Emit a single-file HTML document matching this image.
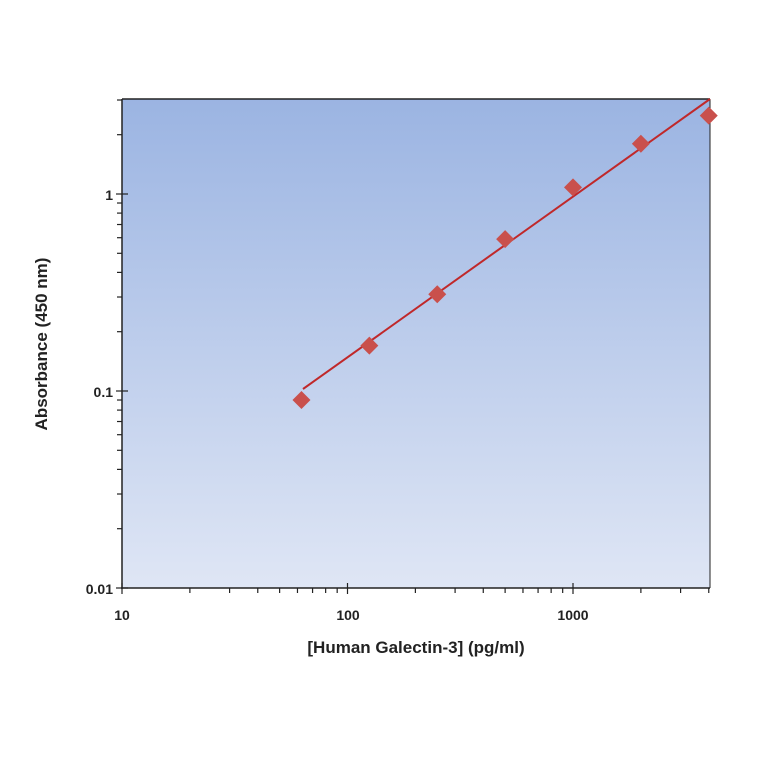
<!DOCTYPE html>
<html><head><meta charset="utf-8"><style>
html,body{margin:0;padding:0;background:#fff;}
svg text{font-family:"Liberation Sans",Arial,sans-serif;font-weight:bold;fill:#222;}
</style></head><body>
<svg id="s" width="764" height="764" viewBox="0 0 764 764" xmlns="http://www.w3.org/2000/svg">
<defs><linearGradient id="g" x1="0" y1="0" x2="0" y2="1">
<stop offset="0" stop-color="#9bb4e2"/><stop offset="1" stop-color="#dfe6f5"/></linearGradient></defs>
<rect x="122" y="99" width="588" height="489" fill="url(#g)"/>
<line x1="122" y1="99" x2="710" y2="99" stroke="#222" stroke-width="1.5"/>
<line x1="710" y1="99" x2="710" y2="588" stroke="#222" stroke-width="1"/>
<line x1="122" y1="99" x2="122" y2="589" stroke="#222" stroke-width="1.5"/>
<line x1="121" y1="588" x2="710" y2="588" stroke="#222" stroke-width="1.5"/>
<g id="ticks" stroke="#222" stroke-width="1.2"></g>
<polyline points="303,389 710,99" fill="none" stroke="#c0282a" stroke-width="2"/>
<g id="pts" fill="#c9504c"></g>
<text x="113" y="200" font-size="14" text-anchor="end">1</text>
<text x="113" y="397" font-size="14" text-anchor="end">0.1</text>
<text x="113" y="594" font-size="14" text-anchor="end">0.01</text>
<text x="122" y="620" font-size="14" text-anchor="middle">10</text>
<text x="348" y="620" font-size="14" text-anchor="middle">100</text>
<text x="573" y="620" font-size="14" text-anchor="middle">1000</text>
<text x="416" y="653" font-size="17" text-anchor="middle">[Human Galectin-3] (pg/ml)</text>
<text transform="translate(47,344) rotate(-90)" font-size="17" text-anchor="middle">Absorbance (450 nm)</text>
</svg>
<script>
var t=document.getElementById('ticks'),p=document.getElementById('pts'),h='';
function X(v){return 122+(Math.log10(v)-1)*225.5}
function Y(v){return 588-(Math.log10(v)+2)*197}
for(var d=10;d<=1000;d*=10)for(var k=1;k<10;k++){var v=d*k;if(v>4000)break;var x=X(v);
 h+='<line x1="'+x+'" x2="'+x+'" y1="'+(k==1?583:588)+'" y2="'+(k==1?594:593)+'"/>';}
for(var d=0.01;d<=1.01;d*=10)for(var k=1;k<10;k++){var v=d*k;if(v>3.01)break;var y=Y(v);
 h+='<line y1="'+y+'" y2="'+y+'" x1="'+(k==1?116:117)+'" x2="'+(k==1?128:122)+'"/>';}
t.innerHTML=h;
var data=[[62.5,0.09],[125,0.17],[250,0.31],[500,0.59],[1000,1.08],[2000,1.8],[4000,2.5]],q='';
data.forEach(function(a){var x=X(a[0]),y=Y(a[1]);q+='<polygon points="'+x+','+(y-9)+' '+(x+9)+','+y+' '+x+','+(y+9)+' '+(x-9)+','+y+'"/>';});
p.innerHTML=q;
</script>
</body></html>
